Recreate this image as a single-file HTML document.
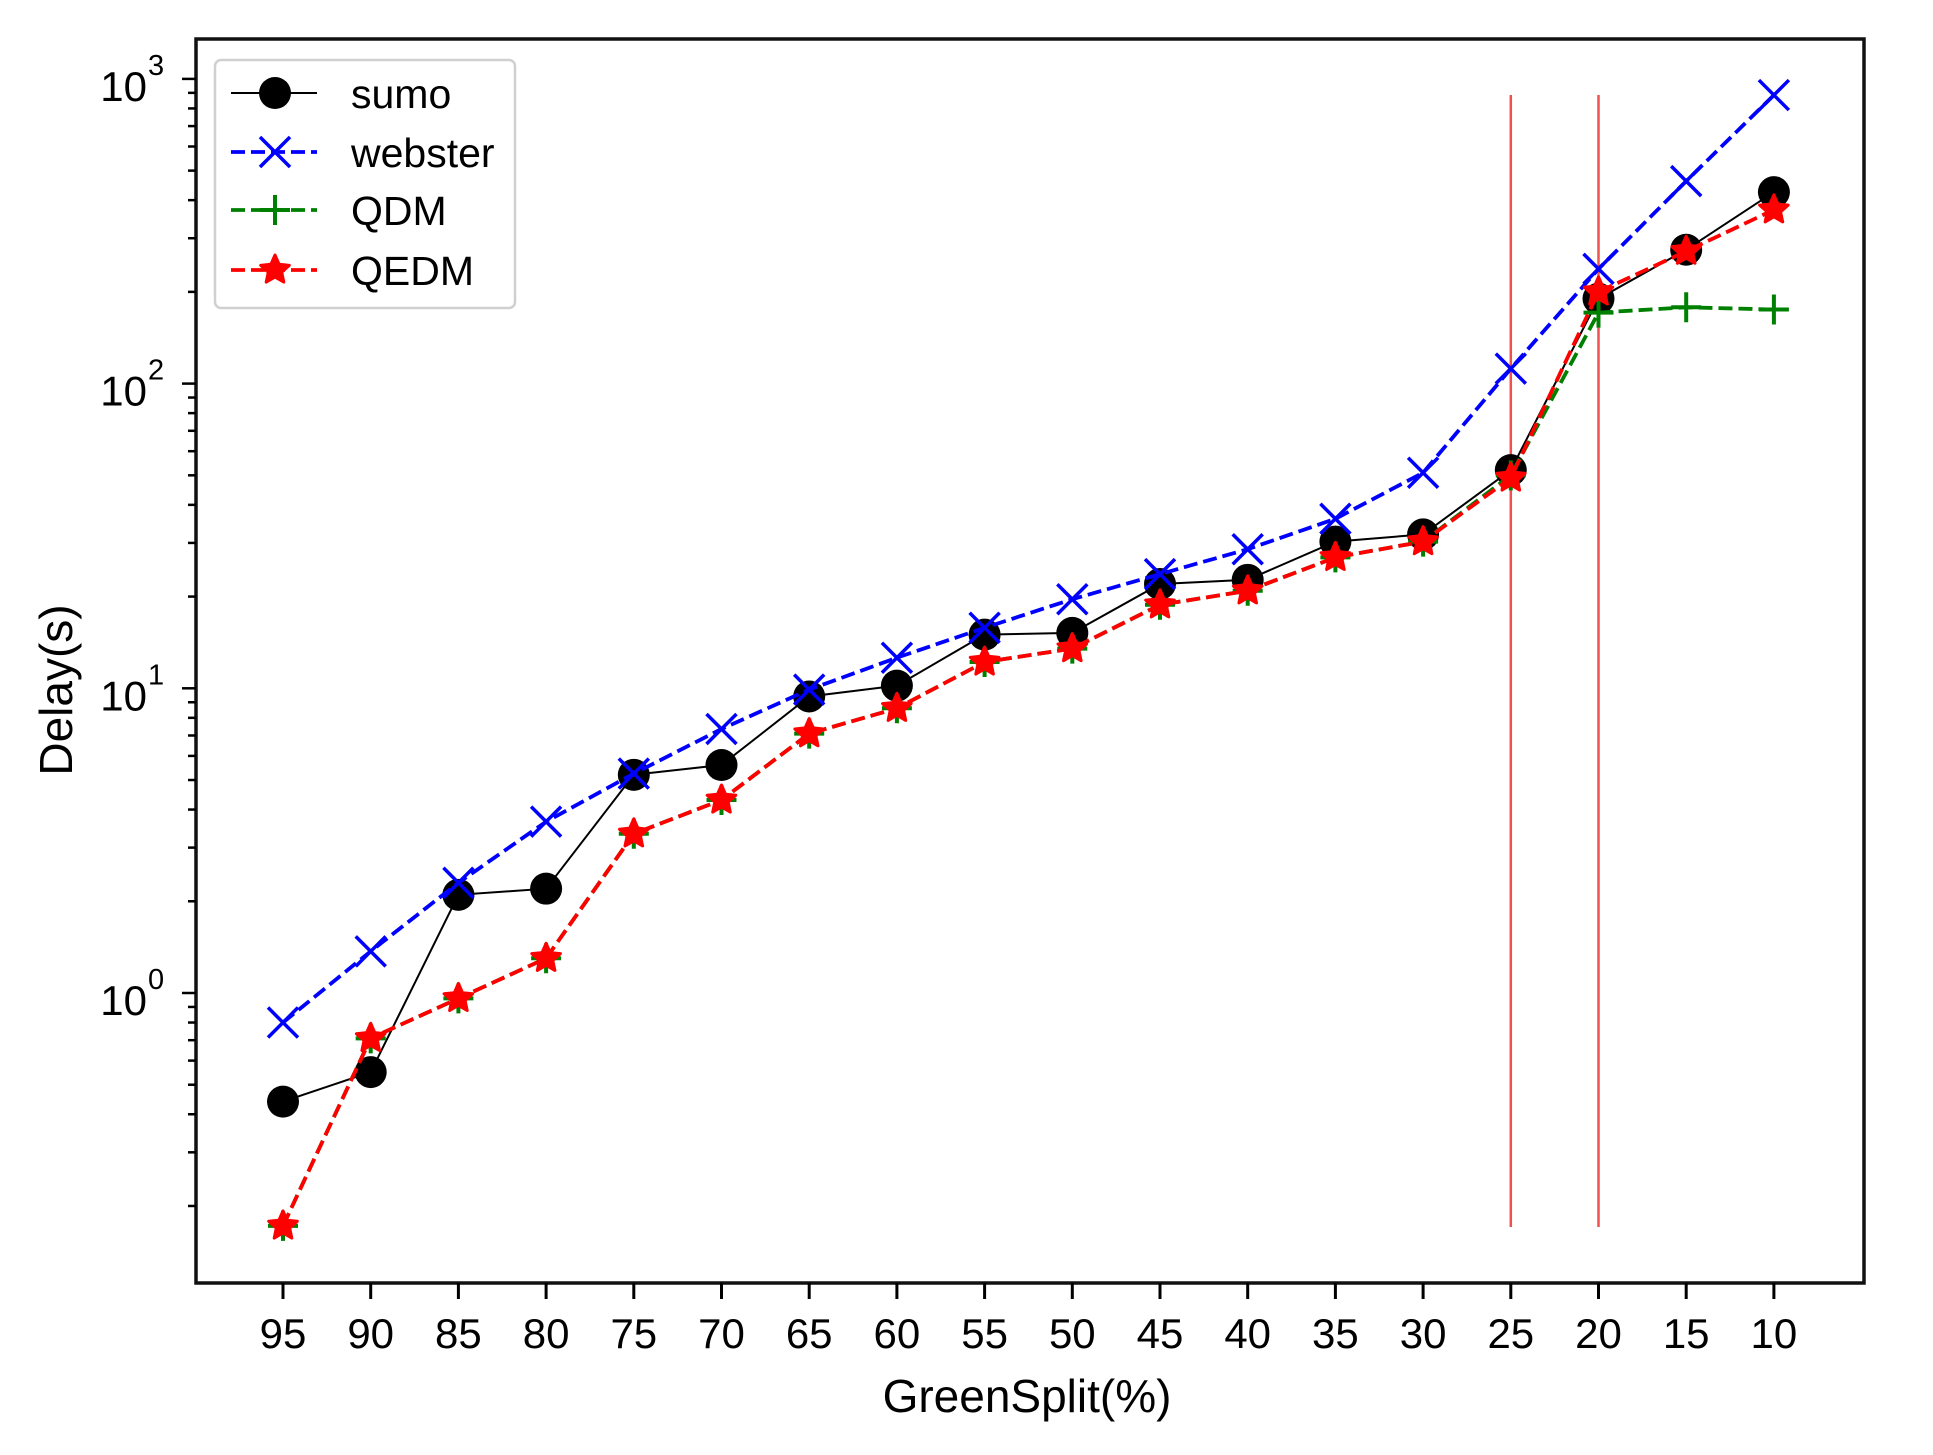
<!DOCTYPE html>
<html><head><meta charset="utf-8"><style>
html,body{margin:0;padding:0;background:#fff;}
svg{display:block;font-family:"Liberation Sans",Arial,sans-serif;}
</style></head><body>
<svg id="s" width="1933" height="1455" viewBox="0 0 1933 1455" xmlns="http://www.w3.org/2000/svg"></svg>
<script>
const S=document.getElementById('s');
let h='';
const X=i=>283+87.7*i;
const Y=v=>993-304.7*Math.log10(v);
[14,15].forEach(i=>{h+=`<line x1="${X(i)}" y1="95" x2="${X(i)}" y2="1227" stroke="#f05050" stroke-width="2.5"/>`;});
const sumo=[0.44,0.55,2.1,2.2,5.2,5.6,9.4,10.2,15,15.2,22,22.7,30.3,32,52,190,275,425];
const web=[0.8,1.37,2.3,3.65,5.25,7.35,9.9,12.6,15.8,19.6,23.7,28.6,36,51,112,238,462,885];
const qedm=[0.172,0.71,0.96,1.3,3.33,4.3,7.1,8.6,12.2,13.5,18.8,20.9,26.9,30.3,49,200,272,372];
const qdm=qedm.slice();qdm[14]=50;qdm[15]=171;qdm[16]=178;qdm[17]=175;
const pts=a=>a.map((v,i)=>X(i).toFixed(1)+','+Y(v).toFixed(1)).join(' ');
function star(cx,cy,r,col){let p=[];for(let k=0;k<10;k++){const a=-Math.PI/2+k*Math.PI/5;const rr=k%2?r*0.47:r;p.push((cx+rr*Math.cos(a)).toFixed(1)+','+(cy+rr*Math.sin(a)).toFixed(1));}return `<polygon points="${p.join(' ')}" fill="${col}" stroke="${col}" stroke-width="3" stroke-linejoin="round"/>`;}
function cross(cx,cy,r,col){return `<path d="M${cx-r},${cy-r}L${cx+r},${cy+r}M${cx-r},${cy+r}L${cx+r},${cy-r}" stroke="${col}" stroke-width="3.5"/>`;}
function plus(cx,cy,r,col){return `<path d="M${cx-r},${cy}L${cx+r},${cy}M${cx},${cy-r}L${cx},${cy+r}" stroke="${col}" stroke-width="4"/>`;}
h+=`<polyline points="${pts(sumo)}" fill="none" stroke="#000" stroke-width="2"/>`;
sumo.forEach((v,i)=>h+=`<circle cx="${X(i)}" cy="${Y(v)}" r="16" fill="#000"/>`);
h+=`<polyline points="${pts(web)}" fill="none" stroke="#0000ff" stroke-width="3.8" stroke-dasharray="14,6"/>`;
web.forEach((v,i)=>h+=cross(X(i),Y(v),15,'#0000ff'));
h+=`<polyline points="${pts(qdm)}" fill="none" stroke="#008000" stroke-width="3.8" stroke-dasharray="14,6"/>`;
qdm.forEach((v,i)=>h+=plus(X(i),Y(v),15,'#008000'));
h+=`<polyline points="${pts(qedm)}" fill="none" stroke="#ff0000" stroke-width="3.8" stroke-dasharray="14,6"/>`;
qedm.forEach((v,i)=>h+=star(X(i),Y(v),15,'#ff0000'));
h+=`<rect x="196" y="39" width="1668" height="1244" fill="none" stroke="#111" stroke-width="3.5"/>`;
const xl=[95,90,85,80,75,70,65,60,55,50,45,40,35,30,25,20,15,10];
xl.forEach((l,i)=>{h+=`<line x1="${X(i)}" y1="1283" x2="${X(i)}" y2="1299" stroke="#000" stroke-width="3"/>`;
h+=`<text x="${X(i)}" y="1348" font-size="42" text-anchor="middle">${l}</text>`;});
for(let e=-1;e<=3;e++){for(let m=1;m<=9;m++){const v=m*Math.pow(10,e);const y=Y(v);if(y<39||y>1283)continue;
 const len=m==1?14:8;h+=`<line x1="${196-len}" y1="${y}" x2="196" y2="${y}" stroke="#000" stroke-width="2.5"/>`;
 if(m==1){h+=`<text x="147" y="${y+22}" font-size="42" text-anchor="end">10</text><text x="148" y="${y-4}" font-size="29">${e}</text>`;}}}
h+=`<text x="1027" y="1412" font-size="46" text-anchor="middle">GreenSplit(%)</text>`;
h+=`<text transform="translate(72,690) rotate(-90)" font-size="46" text-anchor="middle">Delay(s)</text>`;
h+=`<rect x="215" y="60" width="300" height="248" rx="6" fill="#fff" stroke="#d0d0d0" stroke-width="2.5"/>`;
const ly=[93,152,210,270];
h+=`<line x1="231" y1="${ly[0]}" x2="317" y2="${ly[0]}" stroke="#000" stroke-width="2"/><circle cx="275" cy="${ly[0]}" r="16" fill="#000"/>`;
[['#0000ff',cross],['#008000',plus],['#ff0000',star]].forEach((c,k)=>{const y=ly[k+1];
 h+=`<line x1="231" y1="${y}" x2="317" y2="${y}" stroke="${c[0]}" stroke-width="3.8" stroke-dasharray="14,6"/>`;
 h+=c[1](275,y,15,c[0]);});
['sumo','webster','QDM','QEDM'].forEach((t,k)=>h+=`<text x="351" y="${ly[k]+15}" font-size="41">${t}</text>`);
S.innerHTML=h;
</script>
</body></html>
